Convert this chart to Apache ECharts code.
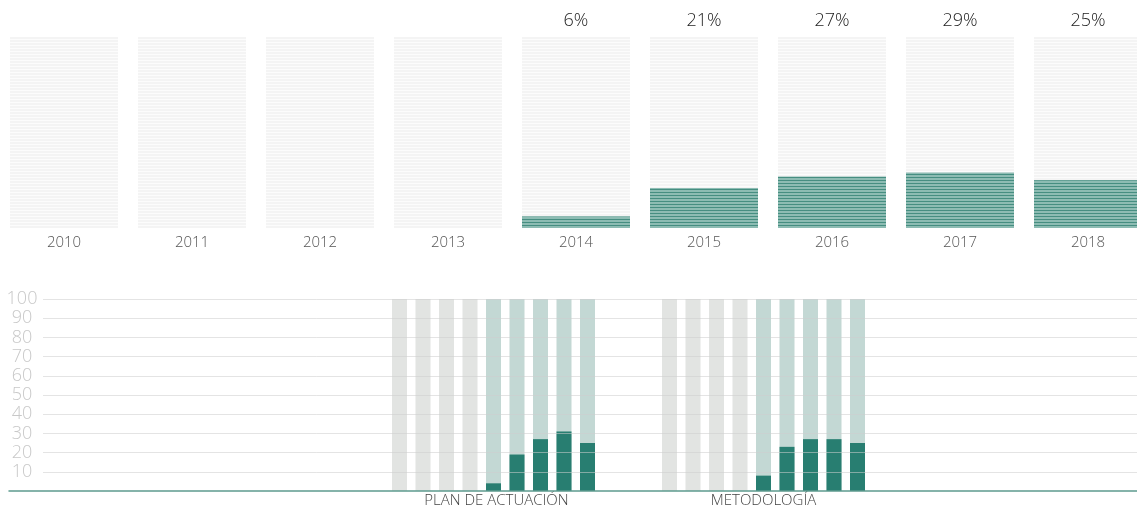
<!DOCTYPE html>
<html>
<head>
<meta charset="utf-8">
<script src="https://cdn.jsdelivr.net/npm/echarts@6/dist/echarts.min.js"></script>
<style>
html,body{margin:0;padding:0;background:#fff;}
#c{width:1137px;height:514px;}
</style>
</head>
<body>
<div id="c"></div>
<script>
// ---- data ----
var years = ['2010','2011','2012','2013','2014','2015','2016','2017','2018'];
var overall = [null, null, null, null, 6, 21, 27, 29, 25];
var planActuacion = [null, null, null, null, 4, 19, 27, 31, 25];
var metodologia = [null, null, null, null, 8, 23, 27, 27, 25];
var groupNames = ['PLAN DE ACTUACIÓN', 'METODOLOGÍA'];
var yTicks = [10, 20, 30, 40, 50, 60, 70, 80, 90, 100];

var FONT = 'Open Sans';
var full = years.map(function(){ return 100; });
var dark = '#287e71';

function bgColorFor(i){ return overall[i] == null ? '#e2e4e2' : '#c3d8d4'; }

var chart = echarts.init(document.getElementById('c'));

function groupGrid(left){
  return { left: left, width: 211.5, top: 299, bottom: 23, outerBoundsMode: 'none' };
}

var option = {
  animation: false,
  textStyle: { fontFamily: FONT },
  grid: [
    { left: 0, width: 1152, top: 37, bottom: 286, outerBoundsMode: 'none' },      // 0 top panels
    { left: 43, right: 0, top: 299, bottom: 23, outerBoundsMode: 'none' },        // 1 y scale lines
    { left: 9, right: 0, top: 299, bottom: 23, outerBoundsMode: 'none' },         // 2 baseline
    groupGrid(387.75),                                   // 3 plan
    groupGrid(657.75)                                    // 4 metodologia
  ],
  xAxis: [
    { gridIndex: 0, type: 'category', data: years,
      axisLine: { show: false }, axisTick: { show: false },
      axisLabel: { color: '#555', fontSize: 15, margin: 7, fontFamily: FONT, fontWeight: 300 } },
    { gridIndex: 1, type: 'category', data: years, show: false },
    { gridIndex: 2, type: 'category', data: years, z: 10,
      axisLine: { show: true, lineStyle: { color: '#5e9b8e', width: 1.5 } },
      axisTick: { show: false }, axisLabel: { show: false } },
    { gridIndex: 3, type: 'category', data: years,
      axisLine: { show: false }, axisTick: { show: false }, axisLabel: { show: false },
      name: groupNames[0], nameLocation: 'middle', nameGap: 2,
      nameTextStyle: { color: '#444', fontSize: 15, fontFamily: FONT, fontWeight: 300, verticalAlign: 'top', padding: [0, 0, 0, 6] } },
    { gridIndex: 4, type: 'category', data: years,
      axisLine: { show: false }, axisTick: { show: false }, axisLabel: { show: false },
      name: groupNames[1], nameLocation: 'middle', nameGap: 2,
      nameTextStyle: { color: '#444', fontSize: 15, fontFamily: FONT, fontWeight: 300, verticalAlign: 'top' } }
  ],
  yAxis: [
    { gridIndex: 0, type: 'value', min: 0, max: 100, show: false },
    { gridIndex: 1, type: 'value', min: 0, max: 100, interval: 10,
      axisLine: { show: false }, axisTick: { show: false },
      axisLabel: { color: '#c8c8c8', fontSize: 18, align: 'center', margin: 21, fontFamily: FONT, fontWeight: 300,
        formatter: function(v){ return yTicks.indexOf(v) < 0 ? '' : String(v); } },
      splitLine: { show: false } },
    { gridIndex: 2, type: 'value', min: 0, max: 100, show: false },
    { gridIndex: 3, type: 'value', min: 0, max: 100, show: false },
    { gridIndex: 4, type: 'value', min: 0, max: 100, show: false }
  ],
  series: [
    // top panels background
    { type: 'bar', xAxisIndex: 0, yAxisIndex: 0, data: full, barWidth: 108, barGap: '-100%',
      itemStyle: { color: '#f4f4f4',
        decal: { symbol: 'rect', symbolSize: 1, dashArrayX: [1, 0], dashArrayY: [1, 2], color: 'rgba(255,255,255,0.7)' } },
      label: { show: true, position: 'top', distance: 7, color: '#222', fontSize: 18, fontFamily: FONT, fontWeight: 300,
        formatter: function(p){ var v = overall[p.dataIndex]; return v == null ? '' : v + '%'; } },
      silent: true },
    // top panels fill
    { type: 'bar', xAxisIndex: 0, yAxisIndex: 0, data: overall, barWidth: 108,
      itemStyle: { color: '#8dbcb3',
        decal: { symbol: 'rect', symbolSize: 1, dashArrayX: [1, 0], dashArrayY: [1, 2], color: 'rgba(40,122,108,0.7)' } },
      silent: true },
    // plan group
    { type: 'bar', xAxisIndex: 3, yAxisIndex: 3, barWidth: 15, barGap: '-100%', z: 2,
      data: full.map(function(v, i){ return { value: v, itemStyle: { color: bgColorFor(i) } }; }) },
    { type: 'bar', xAxisIndex: 3, yAxisIndex: 3, barWidth: 15, z: 3, data: planActuacion,
      itemStyle: { color: dark } },
    // metodologia group
    { type: 'bar', xAxisIndex: 4, yAxisIndex: 4, barWidth: 15, barGap: '-100%', z: 2,
      data: full.map(function(v, i){ return { value: v, itemStyle: { color: bgColorFor(i) } }; }) },
    { type: 'bar', xAxisIndex: 4, yAxisIndex: 4, barWidth: 15, z: 3, data: metodologia,
      itemStyle: { color: dark } },
    // horizontal scale lines drawn over the bars
    { type: 'line', xAxisIndex: 1, yAxisIndex: 1, data: [], z: 8, silent: true,
      markLine: { silent: true, symbol: 'none', label: { show: false }, animation: false,
        lineStyle: { type: 'solid', color: 'rgba(205,205,205,0.55)', width: 1 },
        data: yTicks.map(function(v){ return { yAxis: v }; }) } }
  ]
};
chart.setOption(option);
</script>
</body>
</html>
